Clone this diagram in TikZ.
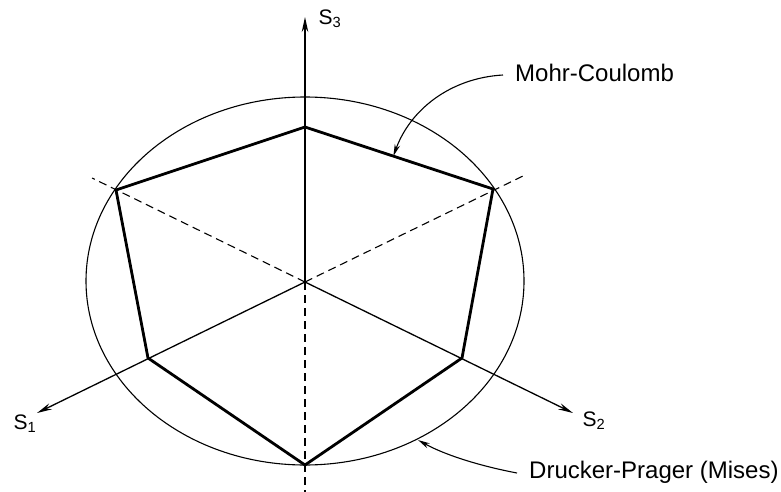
\documentclass[tikz,border=0pt]{standalone}
\usepackage{fontspec}
\setmainfont{Liberation Sans}
\usetikzlibrary{arrows.meta,calc}
\begin{document}
\begin{tikzpicture}[x=1pt,y=-1pt,
  axis/.style={line width=1.3pt,-{Stealth[length=15pt,width=6.5pt]}},
  dashax/.style={line width=1.1pt,dash pattern=on 8pt off 5pt},
  yield/.style={line width=2.8pt,line join=miter},
  circ/.style={line width=1.1pt},
  leader/.style={line width=1.1pt,-{Stealth[length=12pt,width=5.5pt]}},
  lbl/.style={inner sep=0pt,font=\fontsize{24}{28}\selectfont},
  slbl/.style={inner sep=0pt,font=\fontsize{21}{24}\selectfont}]
\useasboundingbox (0,0) rectangle (781,492);
% centre and axes
\coordinate (O) at (305,282);
\coordinate (t3) at (305,17);
\coordinate (t1) at (37,413);
\coordinate (t2) at (573,413);
\coordinate (dl) at (92,178);
\coordinate (dr) at (523,176);
\coordinate (db) at (305,492);
% polygon vertices
\coordinate (pt) at (305,127);
\coordinate (pur) at (493,189);
\coordinate (plr) at (462,358);
\coordinate (pb) at (305,465);
\coordinate (pll) at (148,358);
\coordinate (pul) at (116,190);
% ellipse
\draw[circ] (305,281) ellipse [x radius=219, y radius=184];
% dashed axes
\draw[dashax] (O) -- (dl);
\draw[dashax] (O) -- (dr);
\draw[dashax] (O) -- (db);
% solid axes
\draw[axis] (O) -- (t3);
\draw[axis] (O) -- (t1);
\draw[axis] (O) -- (t2);
% Mohr-Coulomb hexagon
\draw[yield] (pt) -- (pur) -- (plr) -- (pb) -- (pll) -- (pul) -- cycle;
% labels
\node[slbl] (s3) at (330,19) {S\textsubscript{3}};
\node[slbl] (s1) at (25,424) {S\textsubscript{1}};
\node[slbl] (s2) at (594,421) {S\textsubscript{2}};
\node[lbl,anchor=west] (mc) at (515,73) {Mohr-Coulomb};
\node[lbl,anchor=west] (dp) at (529,472) {Drucker-Prager (Mises)};
% leaders
\coordinate (mctip) at ($(pt)!0.47!(pur)$);
\coordinate (mcs) at (503,75);
\draw[leader] (mcs) .. controls (450,78) and (410,110) .. (mctip);
\coordinate (dps) at (517,473);
\coordinate (dptip) at (418,440);
\draw[leader] (dps) .. controls (480,466) and (445,455) .. (dptip);
\end{tikzpicture}
\end{document}
